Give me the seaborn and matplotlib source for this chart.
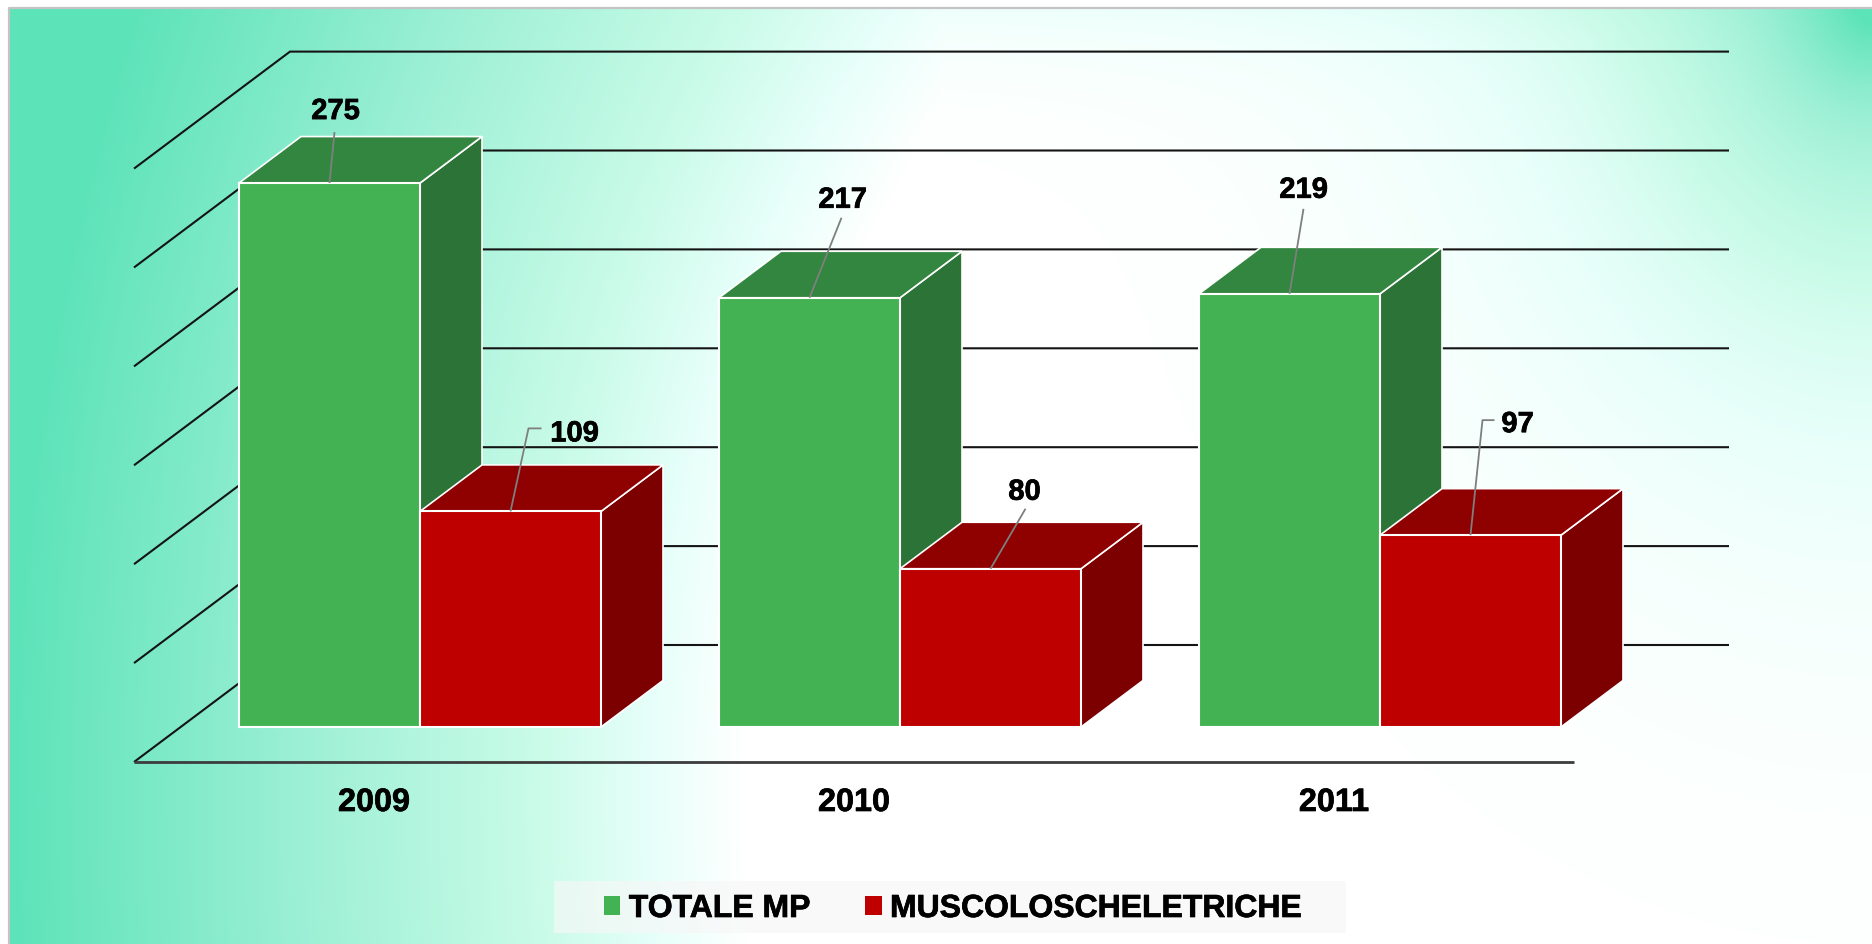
import numpy as np
import pandas as pd
import matplotlib
matplotlib.use("Agg")
import matplotlib.pyplot as plt
import matplotlib.patheffects as pe
from matplotlib.patches import Polygon, Patch, Rectangle
import seaborn as sns

anni = ["2009", "2010", "2011"]
totale_mp = [275, 217, 219]
muscolo = [109, 80, 97]
griglia = [0, 50, 100, 150, 200, 250, 300]
serie = ["TOTALE MP", "MUSCOLOSCHELETRICHE"]

W, H = 1872, 945
PX_X = 480.0     # pixels per category
PX_Y = 1.978     # pixels per unit
X0, Y0 = 420, 728  # pixel of first category / value 0

sns.set_theme(style="white")
plt.rcParams["font.family"] = ["Liberation Sans", "DejaVu Sans"]

fig = plt.figure(figsize=(W / 100, H / 100), dpi=100, facecolor="white")
grassetto = [pe.withStroke(linewidth=0.5, foreground="black")]


# background, drawn in pixels
def sfondo():
    bg = fig.add_axes([0, 0, 1, 1], zorder=0)
    xx, yy = np.meshgrid(np.arange(9, W), np.arange(9, H))
    left = np.sqrt(((xx - 1500) / 900.0) ** 2 + ((yy - 800) / 1200.0) ** 2) - 1
    corner = np.sqrt(((xx - W) / 175.0) ** 2 + ((yy - 9) / 215.0) ** 2)
    right = 0.66 * np.exp(-corner) + 0.07 * np.exp(-yy / 60.0) - 0.005
    right = np.interp(right, [0, 0.08, 0.19, 0.66], [-0.16, -0.06, 0.08, 0.66])
    u = np.maximum(left, right)
    stops = [-0.16, -0.06, 0.08, 0.33, 0.66]
    r = np.interp(u, stops, [255, 232, 200, 157, 92])
    g = np.interp(u, stops, [255, 255, 251, 240, 227])
    b = np.interp(u, stops, [255, 250, 232, 213, 184])
    img = np.dstack([r, g, b]).astype(np.uint8)
    bg.imshow(img, extent=(9, W, H, 9), aspect="auto", interpolation="bilinear")
    bg.set_xlim(0, W)
    bg.set_ylim(H, 0)
    bg.plot([9, 9, W], [H, 9, 9], color="#c4c4c4", lw=1.6)
    # legend box
    bg.add_patch(Rectangle((554, 882), 792, 52, fc="#f7f7f7", ec="none", alpha=0.65))
    bg.axis("off")


sfondo()

ax = fig.add_axes([0, 0, 1, 1], zorder=1)
ax.patch.set_alpha(0)

df = pd.DataFrame({
    "anno": anni * 2,
    "casi": totale_mp + muscolo,
    "serie": [serie[0]] * 3 + [serie[1]] * 3,
})
colori = {serie[0]: "#43b253", serie[1]: "#be0000"}
sns.barplot(data=df, x="anno", y="casi", hue="serie", palette=colori, saturation=1,
            width=362 / PX_X, gap=0, edgecolor="white", linewidth=1.5, legend=False, ax=ax)

ax.set_xlim(-X0 / PX_X, (W - X0) / PX_X)
ax.set_ylim(-(H - Y0) / PX_Y, Y0 / PX_Y)
ax.axis("off")

# back wall + floor
fx = lambda px: (px - X0) / PX_X
fy = lambda py: (Y0 - py) / PX_Y
x_l, x_lb, x_r, x_rb = fx(134), fx(290), fx(1574), fx(1729)
floor_front, floor_back = fy(763), fy(646)
for v in griglia:
    ax.plot([x_l, x_lb, x_rb], [floor_front + v, floor_back + v, floor_back + v],
            color="#141414", lw=1.5, zorder=1, solid_capstyle="butt", solid_joinstyle="miter")
ax.plot([x_l, x_r], [floor_front, floor_front], color="#3c3c3c", lw=2, zorder=1,
        solid_capstyle="butt")

# 3d faces from the bars seaborn made
DX, DY = 62 / PX_X, 46.5 / PX_Y
facce = [("#2b7336", "#32863f"), ("#7c0000", "#8f0000")]
# pixels from the top centre of each bar: text dx, text dy, leader end dx, leader end dy, elbow dx
etichette = {
    0: [(6, 72, 5, 51, None), (33, 98, 32, 80, None), (14, 104, 14, 85, None)],
    1: [(64, 78, 31, 83, 18), (34, 77, 35, 60, None), (47, 111, 24, 115, 12)],
}
valori = [totale_mp, muscolo]
for gruppo in range(3):
    for s, cont in enumerate(ax.containers):
        bar = cont[gruppo]
        x0, w, h = bar.get_x(), bar.get_width(), bar.get_height()
        x1 = x0 + w
        z = 3 + gruppo * 3 + s * 3 / 2
        lato, sopra = facce[s]
        ax.add_patch(Polygon([(x1, 0), (x1 + DX, DY), (x1 + DX, h + DY), (x1, h)],
                             fc=lato, ec="white", lw=1.2, zorder=z))
        ax.add_patch(Polygon([(x0, h), (x0 + DX, h + DY), (x1 + DX, h + DY), (x1, h)],
                             fc=sopra, ec="white", lw=1.2, zorder=z + 0.1))
        bar.set_zorder(z + 0.2)

        # leader line and value
        xc = x0 + w / 2
        tdx, tdy, edx, edy, elbow = etichette[s][gruppo]
        xs, ys = [xc], [h]
        if elbow is not None:
            xs.append(xc + elbow / PX_X)
            ys.append(h + edy / PX_Y)
        xs.append(xc + edx / PX_X)
        ys.append(h + edy / PX_Y)
        ax.plot(xs, ys, color="#7f7f7f", lw=1.3, zorder=z + 0.3, solid_capstyle="butt")
        ax.text(xc + tdx / PX_X, h + tdy / PX_Y, str(valori[s][gruppo]), ha="center", va="center",
                fontsize=21, fontweight="bold", color="black", zorder=50, path_effects=grassetto)

for i, anno in enumerate(anni):
    ax.text(i - 46 / PX_X, fy(804), anno, ha="center", va="center", fontsize=23.3,
            fontweight="bold", color="black", path_effects=grassetto)

maniglie = [Patch(fc=colori[n], ec="none") for n in serie]
leg = fig.legend(maniglie, serie, loc="center", bbox_to_anchor=(953 / W, 1 - 910 / H), ncol=2,
                 prop={"size": 23, "weight": "bold"}, frameon=False, labelcolor="black",
                 handlelength=0.52, handleheight=0.52, handletextpad=0.26, columnspacing=1.7,
                 borderpad=0, borderaxespad=0)
for t in leg.get_texts():
    t.set_path_effects(grassetto)

fig.savefig("out.png", dpi=100)
